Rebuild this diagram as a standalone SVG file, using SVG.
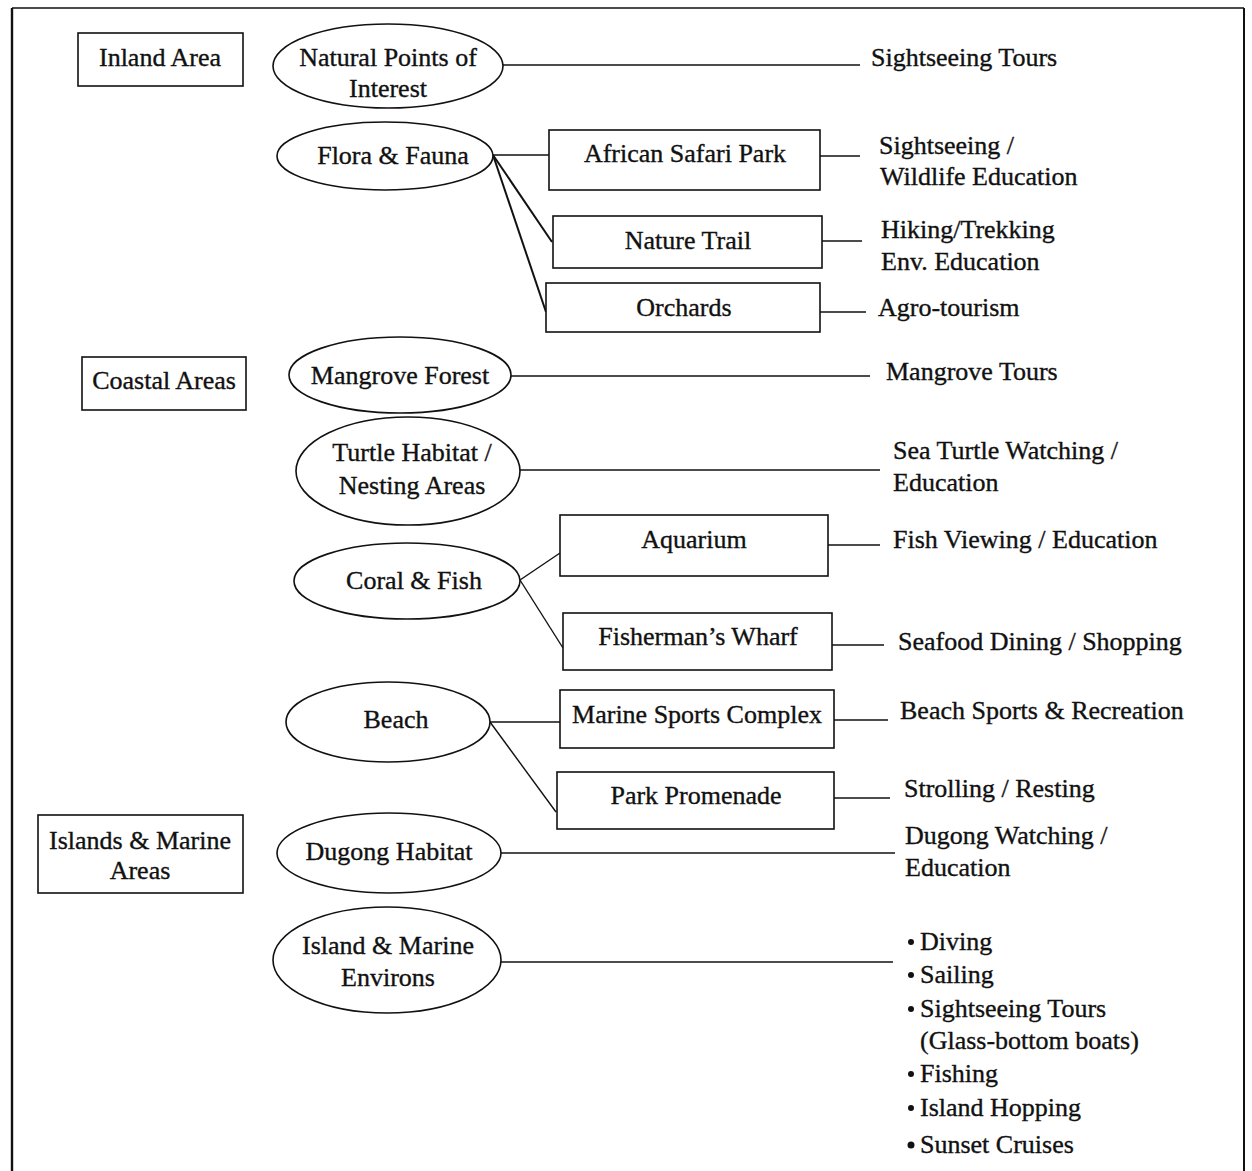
<svg xmlns="http://www.w3.org/2000/svg" width="1252" height="1171" viewBox="0 0 1252 1171">
<style>
text{font-family:"Liberation Serif","Times New Roman",serif;font-size:26px;fill:#111;stroke:#111;stroke-width:0.35}
.c{text-anchor:middle}
.n{fill:#fff;stroke:#111;stroke-width:1.6}
.l{stroke:#111;stroke-width:1.4;fill:none}
.t{stroke-width:2}
.b{fill:#111}
</style>
<rect x="0" y="0" width="1252" height="1171" fill="#fff"/>
<g id="frame">
<line class="l" x1="12" y1="8" x2="1244" y2="8"/>
<line class="l" x1="12" y1="8" x2="12" y2="1171" style="stroke-width:2.4"/>
<line class="l" x1="1244" y1="8" x2="1244" y2="1171" style="stroke-width:2"/>
</g>
<g id="connectors">
<line class="l" x1="503" y1="65" x2="860" y2="65"/>
<line class="l" x1="493" y1="155" x2="549" y2="155"/>
<line class="l t" x1="493" y1="155" x2="552" y2="242"/>
<line class="l t" x1="493" y1="155" x2="546" y2="312"/>
<line class="l" x1="820" y1="156" x2="860" y2="156"/>
<line class="l" x1="822" y1="241" x2="862" y2="241"/>
<line class="l" x1="820" y1="312" x2="866" y2="312"/>
<line class="l" x1="511" y1="376" x2="870" y2="376"/>
<line class="l" x1="520" y1="470" x2="880" y2="470"/>
<line class="l" x1="520" y1="580" x2="560" y2="553"/>
<line class="l" x1="520" y1="580" x2="563" y2="648"/>
<line class="l" x1="828" y1="545" x2="880" y2="545"/>
<line class="l" x1="832" y1="645" x2="884" y2="645"/>
<line class="l" x1="490" y1="722" x2="560" y2="722"/>
<line class="l" x1="490" y1="722" x2="556" y2="812"/>
<line class="l" x1="834" y1="720" x2="888" y2="720"/>
<line class="l" x1="834" y1="798" x2="890" y2="798"/>
<line class="l" x1="501" y1="853" x2="895" y2="853"/>
<line class="l" x1="500" y1="962" x2="893" y2="962"/>
</g>
<g id="inland-area"><rect class="n" x="78" y="33" width="165" height="53"/><text class="c" x="160" y="66">Inland Area</text></g>
<g id="natural-points"><ellipse class="n" cx="388" cy="66" rx="115" ry="42"/><text class="c" x="388" y="66">Natural Points of</text><text class="c" x="388" y="97">Interest</text></g>
<g id="sightseeing-tours"><text x="871" y="66">Sightseeing Tours</text></g>
<g id="flora-fauna"><ellipse class="n" cx="385" cy="156" rx="108" ry="34"/><text class="c" x="393" y="164">Flora &amp; Fauna</text></g>
<g id="african-safari"><rect class="n" x="549" y="130" width="271" height="60"/><text class="c" x="685" y="162">African Safari Park</text></g>
<g id="sightseeing-wildlife"><text x="879" y="154">Sightseeing /</text><text x="880" y="185">Wildlife Education</text></g>
<g id="nature-trail"><rect class="n" x="553" y="216" width="269" height="52"/><text class="c" x="688" y="249">Nature Trail</text></g>
<g id="hiking"><text x="881" y="238">Hiking/Trekking</text><text x="881" y="270">Env. Education</text></g>
<g id="orchards"><rect class="n" x="546" y="283" width="274" height="49"/><text class="c" x="684" y="316">Orchards</text></g>
<g id="agro"><text x="878" y="316">Agro-tourism</text></g>
<g id="coastal-areas"><rect class="n" x="82" y="357" width="164" height="53"/><text class="c" x="164" y="389">Coastal Areas</text></g>
<g id="mangrove-forest"><ellipse class="n" cx="400" cy="375" rx="111" ry="38"/><text class="c" x="400" y="384">Mangrove Forest</text></g>
<g id="mangrove-tours"><text x="886" y="380">Mangrove Tours</text></g>
<g id="turtle-habitat"><ellipse class="n" cx="408" cy="471" rx="112" ry="54"/><text class="c" x="412" y="461">Turtle Habitat /</text><text class="c" x="412" y="494">Nesting Areas</text></g>
<g id="sea-turtle"><text x="893" y="459">Sea Turtle Watching /</text><text x="893" y="491">Education</text></g>
<g id="aquarium"><rect class="n" x="560" y="515" width="268" height="61"/><text class="c" x="694" y="548">Aquarium</text></g>
<g id="fish-viewing"><text x="893" y="548">Fish Viewing / Education</text></g>
<g id="coral-fish"><ellipse class="n" cx="407" cy="581" rx="113" ry="38"/><text class="c" x="414" y="589">Coral &amp; Fish</text></g>
<g id="fishermans-wharf"><rect class="n" x="563" y="613" width="269" height="57"/><text class="c" x="698" y="645">Fisherman’s Wharf</text></g>
<g id="seafood"><text x="898" y="650">Seafood Dining / Shopping</text></g>
<g id="beach"><ellipse class="n" cx="388" cy="722" rx="102" ry="40"/><text class="c" x="396" y="728">Beach</text></g>
<g id="marine-sports"><rect class="n" x="560" y="690" width="274" height="58"/><text class="c" x="697" y="723">Marine Sports Complex</text></g>
<g id="beach-sports"><text x="900" y="719">Beach Sports &amp; Recreation</text></g>
<g id="park-promenade"><rect class="n" x="557" y="772" width="277" height="57"/><text class="c" x="696" y="804">Park Promenade</text></g>
<g id="strolling"><text x="904" y="797">Strolling / Resting</text></g>
<g id="islands-marine-areas"><rect class="n" x="38" y="815" width="205" height="78"/><text class="c" x="140" y="849">Islands &amp; Marine</text><text class="c" x="140" y="879">Areas</text></g>
<g id="dugong-habitat"><ellipse class="n" cx="389" cy="853" rx="112" ry="40"/><text class="c" x="389" y="860">Dugong Habitat</text></g>
<g id="dugong-watching"><text x="905" y="844">Dugong Watching /</text><text x="905" y="876">Education</text></g>
<g id="island-environs"><ellipse class="n" cx="387" cy="960" rx="114" ry="53"/><text class="c" x="388" y="954">Island &amp; Marine</text><text class="c" x="388" y="986">Environs</text></g>
<g id="marine-activities">
<circle class="b" cx="911" cy="942" r="3"/><text x="920" y="950">Diving</text>
<circle class="b" cx="911" cy="975" r="3"/><text x="920" y="983">Sailing</text>
<circle class="b" cx="911" cy="1009" r="3"/><text x="920" y="1017">Sightseeing Tours</text>
<text x="920" y="1049">(Glass-bottom boats)</text>
<circle class="b" cx="911" cy="1074" r="3"/><text x="920" y="1082">Fishing</text>
<circle class="b" cx="911" cy="1108" r="3"/><text x="920" y="1116">Island Hopping</text>
<circle class="b" cx="911" cy="1145" r="3.5"/><text x="920" y="1153">Sunset Cruises</text>
</g>
</svg>
